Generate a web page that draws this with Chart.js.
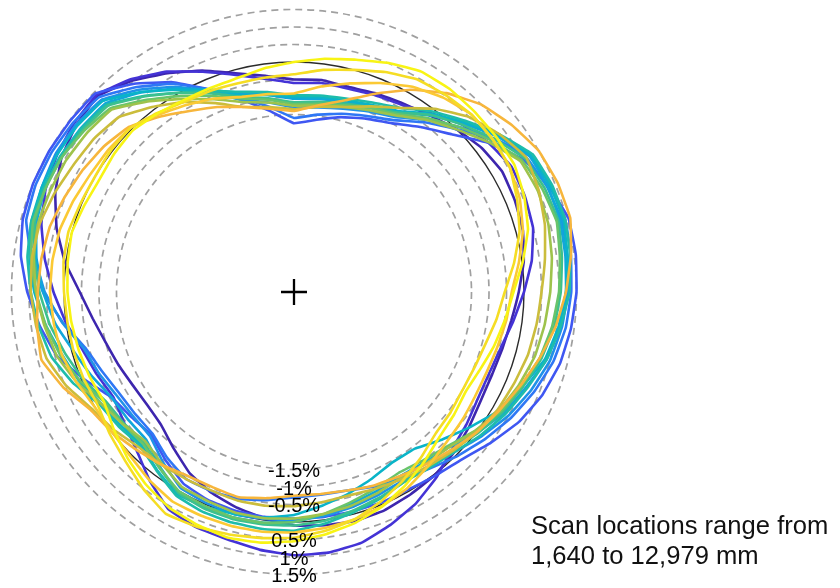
<!DOCTYPE html>
<html>
<head>
<meta charset="utf-8">
<script src="https://cdn.jsdelivr.net/npm/chart.js@4.4.1/dist/chart.umd.min.js"></script>
<style>
  html, body { margin: 0; padding: 0; background: #ffffff; }
  #wrap { position: relative; width: 840px; height: 588px; overflow: hidden; }
  #plot { position: absolute; left: 0; top: 0; }
  #note {
    position: absolute; left: 531px; top: 510px;
    font-family: "Liberation Sans", Arial, sans-serif;
    font-size: 25.6px; line-height: 30px; color: #111; white-space: nowrap;
  }
</style>
</head>
<body>
<div id="wrap">
  <canvas id="plot" width="840" height="588"></canvas>
  <div id="note">Scan locations range from<br>1,640 to 12,979 mm</div>
</div>
<script>
// Angular positions around the section, clockwise from the crown (degrees)
const angles = ['0','7.5','15','22.5','30','37.5','45','52.5','60','67.5','75','82.5',
  '90','97.5','105','112.5','120','127.5','135','142.5','150','157.5','165','172.5',
  '180','187.5','195','202.5','210','217.5','225','232.5','240','247.5','255','262.5',
  '270','277.5','285','292.5','300','307.5','315','322.5','330','337.5','345','352.5'];

// Radial deviation from the nominal profile (%), one array per scan location
const scan01 = [-0.5,-0.46,-0.51,-0.43,-0.35,-0.21,0.0,0.19,0.3,0.26,0.2,0.05,-0.15,-0.31,-0.4,-0.44,-0.4,-0.26,-0.1,0.03,0.1,0.18,0.2,0.15,0.1,-0.05,-0.2,-0.37,-0.6,-0.93,-1.2,-1.28,-1.25,-1.14,-1.0,-0.77,-0.45,0.03,0.45,0.81,1.1,1.27,1.35,1.04,0.65,0.28,-0.1,-0.34];
const scan02 = [-0.6,-0.55,-0.56,-0.49,-0.4,-0.13,0.2,0.43,0.6,0.57,0.5,0.28,0.0,-0.25,-0.45,-0.53,-0.5,-0.36,-0.2,0.11,0.4,0.63,0.85,0.94,0.95,0.86,0.75,0.71,0.6,0.21,-0.2,-0.45,-0.6,-0.46,-0.3,0.01,0.3,0.61,0.9,1.11,1.25,1.35,1.4,1.09,0.7,0.24,-0.15,-0.43];
const scan03 = [-1.75,-1.61,-1.4,-1.21,-1.0,-0.63,-0.2,0.43,1.0,1.31,1.55,1.55,1.5,1.41,1.3,1.11,0.85,0.51,0.2,0.05,-0.05,-0.06,-0.08,-0.09,-0.1,-0.09,-0.1,-0.14,-0.25,-0.53,-0.8,-0.71,-0.55,-0.07,0.45,0.76,1.05,1.3,1.45,1.5,1.5,1.48,1.45,0.93,0.35,-0.31,-0.9,-1.36];
const scan04 = [-1.6,-1.46,-1.3,-1.13,-0.9,-0.46,0.0,0.62,1.2,1.37,1.45,1.41,1.35,1.26,1.1,0.86,0.6,0.32,0.05,-0.21,-0.4,-0.56,-0.7,-0.73,-0.7,-0.57,-0.45,-0.41,-0.4,-0.61,-0.85,-0.85,-0.8,-0.64,-0.4,0.09,0.6,1.0,1.35,1.42,1.42,1.38,1.3,0.81,0.3,-0.31,-0.85,-1.24];
const scan05 = [-1.3,-1.25,-1.15,-0.99,-0.8,-0.37,0.1,0.62,1.1,1.26,1.35,1.31,1.25,1.15,1.0,0.76,0.5,0.19,-0.1,-0.26,-0.35,-0.29,-0.2,-0.11,-0.05,-0.03,0.0,-0.04,-0.1,-0.43,-0.75,-0.76,-0.7,-0.53,-0.35,0.11,0.55,0.89,1.15,1.23,1.3,1.28,1.2,0.71,0.2,-0.37,-0.9,-1.11];
const scan06 = [-1.05,-1.01,-0.95,-0.83,-0.65,-0.21,0.25,0.73,1.2,1.28,1.3,1.25,1.2,1.07,0.9,0.59,0.35,0.03,-0.3,-0.44,-0.5,-0.41,-0.3,-0.15,0.0,0.08,0.1,0.09,0.05,-0.28,-0.6,-0.59,-0.55,-0.31,-0.05,0.31,0.6,0.85,1.05,1.13,1.15,1.11,1.05,0.61,0.15,-0.31,-0.7,-0.89];
const scan07 = [-1.0,-0.96,-0.9,-0.78,-0.6,-0.15,0.3,0.79,1.25,1.35,1.4,1.31,1.2,1.05,0.85,0.49,0.2,-0.23,-0.6,-0.92,-0.95,-0.79,-0.6,-0.41,-0.2,-0.07,0.0,0.07,0.1,-0.15,-0.4,-0.32,-0.2,0.07,0.3,0.59,0.85,1.05,1.2,1.23,1.25,1.23,1.15,0.63,0.1,-0.34,-0.75,-0.89];
const scan08 = [-0.95,-0.91,-0.85,-0.71,-0.5,-0.07,0.35,0.83,1.3,1.41,1.45,1.39,1.3,1.11,0.9,0.63,0.4,0.15,-0.1,-0.23,-0.3,-0.17,-0.05,0.11,0.25,0.26,0.25,0.23,0.15,-0.13,-0.35,-0.26,-0.15,0.25,0.6,0.79,0.95,1.11,1.2,1.18,1.15,1.09,1.0,0.49,0.0,-0.35,-0.65,-0.81];
const scan09 = [-1.15,-1.09,-1.0,-0.85,-0.65,-0.19,0.2,0.63,1.05,1.18,1.25,1.15,1.05,0.93,0.75,0.51,0.3,0.05,-0.2,-0.27,-0.3,-0.21,-0.1,0.03,0.1,0.13,0.15,0.13,0.05,-0.25,-0.5,-0.43,-0.35,-0.05,0.2,0.47,0.7,0.91,1.1,1.13,1.1,1.03,0.95,0.47,0.0,-0.43,-0.8,-0.99];
const scan10 = [-1.2,-1.15,-1.05,-0.89,-0.7,-0.31,0.1,0.54,0.95,1.11,1.2,1.09,1.0,0.87,0.7,0.46,0.25,-0.05,-0.35,-0.51,-0.6,-0.49,-0.35,-0.17,0.0,0.08,0.1,0.05,0.0,-0.25,-0.45,-0.39,-0.3,0.05,0.35,0.59,0.8,1.01,1.15,1.12,1.1,0.99,0.85,0.35,-0.1,-0.51,-0.85,-1.03];
const scan11 = [-1.25,-1.19,-1.1,-0.95,-0.75,-0.37,0.0,0.45,0.9,0.97,0.95,0.86,0.75,0.65,0.55,0.38,0.2,-0.05,-0.3,-0.39,-0.45,-0.35,-0.25,-0.17,-0.1,-0.05,-0.05,-0.11,-0.15,-0.38,-0.55,-0.39,-0.2,0.15,0.45,0.63,0.8,0.93,1.0,0.97,0.95,0.89,0.8,0.29,-0.2,-0.61,-0.95,-1.11];
const scan12 = [-1.35,-1.23,-1.1,-0.83,-0.5,0.03,0.5,0.83,1.1,1.0,0.85,0.66,0.5,0.42,0.35,0.24,0.15,0.01,-0.15,-0.29,-0.4,-0.49,-0.55,-0.51,-0.45,-0.41,-0.4,-0.43,-0.4,-0.35,-0.3,-0.09,0.1,0.46,0.75,0.86,0.95,0.98,0.95,0.83,0.7,0.63,0.5,0.09,-0.3,-0.73,-1.1,-1.24];
const scan13 = [-1.4,-1.19,-0.9,-0.43,0.1,0.59,1.0,1.27,1.5,1.58,1.6,1.41,1.2,0.97,0.7,0.43,0.2,0.01,-0.2,-0.37,-0.5,-0.59,-0.7,-0.75,-0.75,-0.63,-0.5,-0.53,-0.5,-0.35,-0.2,-0.01,0.15,0.56,0.9,0.83,0.75,0.71,0.65,0.52,0.4,0.27,0.1,-0.26,-0.6,-0.85,-1.1,-1.29];
const scan14 = [-0.9,-0.65,-0.4,-0.11,0.2,0.43,0.6,0.59,0.55,0.41,0.2,-0.09,-0.35,-0.45,-0.55,-0.61,-0.6,-0.53,-0.45,-0.29,-0.1,0.04,0.15,0.23,0.3,0.34,0.35,0.35,0.35,0.21,0.05,-0.01,0.0,0.16,0.3,0.35,0.4,0.39,0.35,0.25,0.15,0.11,0.05,-0.19,-0.4,-0.59,-0.8,-0.87];
const scan15 = [-0.35,-0.17,0.0,0.23,0.45,0.53,0.6,0.59,0.55,0.33,0.1,-0.23,-0.55,-0.73,-0.9,-0.98,-1.0,-0.93,-0.85,-0.61,-0.35,-0.09,0.15,0.31,0.45,0.52,0.6,0.69,0.75,0.51,0.25,0.07,-0.1,-0.07,-0.05,-0.04,0.0,0.07,0.1,0.03,0.0,0.04,0.05,-0.13,-0.3,-0.35,-0.4,-0.39];
const scan16 = [0.0,0.15,0.3,0.51,0.7,0.74,0.72,0.71,0.7,0.55,0.35,0.02,-0.3,-0.49,-0.65,-0.81,-0.9,-0.81,-0.7,-0.46,-0.2,0.05,0.25,0.41,0.55,0.65,0.7,0.63,0.55,0.37,0.15,-0.09,-0.3,-0.25,-0.2,-0.15,-0.1,-0.05,0.0,-0.09,-0.15,-0.09,-0.05,-0.15,-0.25,-0.27,-0.25,-0.12];

const scans = [scan01, scan02, scan03, scan04, scan05, scan06, scan07, scan08,
               scan09, scan10, scan11, scan12, scan13, scan14, scan15, scan16];

// Nominal (undeformed) profile
const nominal = angles.map(() => 0);

// Reference rings and their captions
const ringValues = [-1.5, -1, -0.5, 0, 0.5, 1, 1.5];
const ringLabels = ['-1.5%', '-1%', '-0.5%', '', '0.5%', '1%', '1.5%'];

// Sequential colour ramp, first to last scan
const scanColors = ['#3d26ae', '#4433d6', '#3f57f2', '#2f77f5', '#1f92e8', '#11a6da', '#0ab4c8', '#1ebcab',
                    '#3cc08e', '#69c46b', '#9ec34c', '#cbbd3c', '#f7b63c', '#fbc934', '#f5dd24', '#f8f414'];

const datasets = scans.map((vals, i) => ({
  label: 'Scan ' + (i + 1),
  data: vals,
  borderColor: scanColors[i],
  borderWidth: 2.6,
  pointRadius: 0,
  fill: false,
  tension: 0.08,
  borderJoinStyle: 'round',
  order: scans.length - i
}));
datasets.push({
  label: 'Nominal',
  data: nominal,
  borderColor: '#2b2b2b',
  borderWidth: 1.4,
  pointRadius: 0,
  fill: false,
  tension: 0.4,
  order: 100
});

// Ring captions below the centre, plus the centre mark
const ringCaptions = {
  id: 'ringCaptions',
  afterDatasetsDraw(chart) {
    const s = chart.scales.r;
    const ctx = chart.ctx;
    ctx.save();
    ctx.fillStyle = '#000';
    ctx.font = '20px "Liberation Sans", Arial, sans-serif';
    ctx.textAlign = 'center';
    ctx.textBaseline = 'middle';
    ringValues.forEach((v, i) => {
      if (!ringLabels[i]) return;
      const d = s.getDistanceFromCenterForValue(v);
      ctx.fillText(ringLabels[i], s.xCenter, s.yCenter + d + 2);
    });
    ctx.strokeStyle = '#000';
    ctx.lineWidth = 2.3;
    ctx.beginPath();
    ctx.moveTo(s.xCenter - 13, s.yCenter);
    ctx.lineTo(s.xCenter + 13, s.yCenter);
    ctx.moveTo(s.xCenter, s.yCenter - 13);
    ctx.lineTo(s.xCenter, s.yCenter + 13);
    ctx.stroke();
    ctx.restore();
  }
};

new Chart(document.getElementById('plot'), {
  type: 'radar',
  data: { labels: angles, datasets: datasets },
  options: {
    responsive: false,
    animation: false,
    layout: { padding: { left: 2, right: 254, top: 0, bottom: 4 } },
    plugins: { legend: { display: false }, tooltip: { enabled: false } },
    scales: {
      r: {
        min: -6.5714,
        max: 1.7714,
        startAngle: 0,
        angleLines: { display: false },
        pointLabels: { display: false },
        ticks: { display: false },
        afterBuildTicks(scale) {
          scale.ticks = [scale.min].concat(ringValues.filter(v => v !== 0)).map(v => ({ value: v }));
        },
        grid: {
          circular: true,
          color: (c) => (c.index === 0 ? 'rgba(0,0,0,0)' : '#a0a0a0'),
          lineWidth: 1.7
        },
        border: { dash: [7, 5] }
      }
    }
  },
  plugins: [ringCaptions]
});
</script>
</body>
</html>
